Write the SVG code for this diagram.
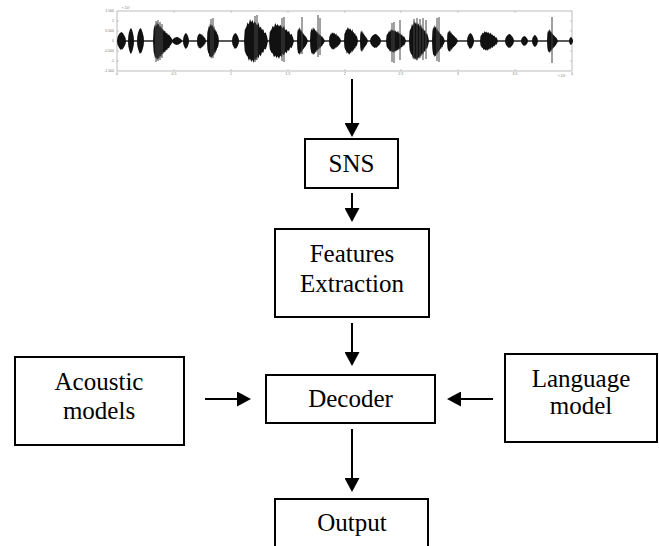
<svg xmlns="http://www.w3.org/2000/svg" xmlns:xlink="http://www.w3.org/1999/xlink" width="659" height="546" viewBox="0 0 659 546">
<style>
.box{fill:#fff;stroke:#000;stroke-width:2}
.lbl{font-family:'Liberation Serif','Times New Roman','DejaVu Serif',serif;font-size:25px;fill:#000;text-anchor:middle}
.conn{stroke:#000;stroke-width:2;fill:none;marker-end:url(#ah)}
.tick{font-family:'Liberation Sans',Arial,sans-serif;font-size:3.5px;fill:#777}
.wv{fill:#111}
.spk{stroke:#444;stroke-width:1;fill:none}
</style>
<defs>
<marker id="ah" markerUnits="userSpaceOnUse" markerWidth="14" markerHeight="15" refX="10" refY="7.5" orient="auto">
<path d="M0 0 L14 7.5 L0 15 Z" fill="#000"/>
</marker>
<path id="wA" d="M0 0 L0.3 -0.5 L1 -0.65 L1.5 -0.85 L2 -0.75 L2.5 -1 L3 -0.85 L3.5 -0.95 L4 -0.8 L4.5 -0.9 L5 -0.8 L5.5 -0.7 L6 -0.85 L6.5 -0.6 L7 -0.65 L7.5 -0.5 L8 -0.55 L8.5 -0.35 L9 -0.4 L9.6 -0.2 L10 0 L9.6 0.2 L9 0.4 L8.5 0.35 L8 0.55 L7.5 0.5 L7 0.7 L6.5 0.6 L6 0.8 L5.5 0.7 L5 0.9 L4.5 0.8 L4 1 L3.5 0.85 L3 0.95 L2.5 0.8 L2 0.9 L1.5 0.7 L1 0.65 L0.3 0.45 Z"/>
<path id="wB" d="M0 0 L0.3 -0.6 L1 -0.9 L1.5 -0.75 L2 -1 L2.5 -0.85 L3 -0.9 L3.5 -0.7 L4 -0.8 L4.5 -0.6 L5 -0.65 L5.5 -0.5 L6 -0.55 L6.5 -0.4 L7 -0.45 L7.5 -0.3 L8 -0.35 L8.5 -0.25 L9 -0.2 L10 0 L9 0.2 L8.5 0.25 L8 0.4 L7.5 0.35 L7 0.5 L6.5 0.45 L6 0.6 L5.5 0.55 L5 0.7 L4.5 0.65 L4 0.85 L3.5 0.75 L3 0.95 L2.5 0.9 L2 1 L1.5 0.85 L1 0.9 L0.3 0.55 Z"/>
<path id="wC" d="M0 0 L0.5 -0.4 L1 -0.5 L1.5 -0.65 L2 -0.7 L2.5 -0.8 L3 -0.85 L3.5 -0.9 L4 -0.95 L5 -1 L6 -0.92 L6.5 -0.88 L7 -0.8 L8 -0.65 L9 -0.45 L9.6 -0.3 L10 0 L9.6 0.3 L9 0.45 L8 0.65 L7 0.8 L6.5 0.85 L6 0.95 L5 0.92 L4 1 L3.5 0.9 L3 0.85 L2 0.7 L1 0.5 L0.5 0.4 Z"/>
</defs>
<rect width="659" height="546" fill="#fff"/>

<g id="waveform">
<rect x="117" y="11" width="455" height="60" fill="none" stroke="#aaa" stroke-width="0.8"/>
<g stroke="#aaa" stroke-width="0.6">
<path d="M117 21h2M117 31h2M117 51h2M117 61h2M572 21h-2M572 31h-2M572 51h-2M572 61h-2"/>
<path d="M174 71v-2M231 71v-2M288 71v-2M345 71v-2M401 71v-2M458 71v-2M515 71v-2M174 11v2M231 11v2M288 11v2M345 11v2M401 11v2M458 11v2M515 11v2"/>
</g>
<g class="tick" text-anchor="end">
<text x="114" y="12">1.500</text><text x="114" y="22">1</text><text x="114" y="32">0.500</text><text x="114" y="42">0</text><text x="114" y="52">-0.500</text><text x="114" y="62">-1</text><text x="114" y="72">-1.500</text>
</g>
<g class="tick" text-anchor="middle">
<text x="117" y="75">0</text><text x="174" y="75">0.5</text><text x="231" y="75">1</text><text x="288" y="75">1.5</text><text x="345" y="75">2</text><text x="401" y="75">2.5</text><text x="458" y="75">3</text><text x="515" y="75">3.5</text><text x="572" y="75">4</text>
<text x="126" y="9">× 10⁴</text><text x="562" y="77">× 10⁴</text>
</g>
<line x1="117" y1="41" x2="572" y2="41" stroke="#222" stroke-width="1.4"/>
<g class="wv">
<use xlink:href="#wC" transform="translate(117,41) scale(0.9,9)"/>
<use xlink:href="#wC" transform="translate(128,41) scale(0.6,13)"/>
<use xlink:href="#wC" transform="translate(137,41) scale(0.7,13)"/>
<use xlink:href="#wB" transform="translate(153,41) scale(2,19)"/>
<use xlink:href="#wC" transform="translate(172,41) scale(1,4)"/>
<use xlink:href="#wC" transform="translate(183,41) scale(0.6,8)"/>
<use xlink:href="#wA" transform="translate(197,41) scale(0.9,8)"/>
<use xlink:href="#wA" transform="translate(207,41) scale(1.2,18)"/>
<use xlink:href="#wC" transform="translate(232,41) scale(0.7,8)"/>
<use xlink:href="#wA" transform="translate(244,41) scale(2.4,22)"/>
<use xlink:href="#wA" transform="translate(269,41) scale(2.5,18)"/>
<use xlink:href="#wB" transform="translate(297,41) scale(1.1,14)"/>
<use xlink:href="#wB" transform="translate(310,41) scale(1.5,14)"/>
<use xlink:href="#wA" transform="translate(329,41) scale(1.2,9)"/>
<use xlink:href="#wA" transform="translate(344,41) scale(1.4,14)"/>
<use xlink:href="#wB" transform="translate(360,41) scale(0.8,11)"/>
<use xlink:href="#wC" transform="translate(370,41) scale(1.1,7)"/>
<use xlink:href="#wA" transform="translate(386,41) scale(2,12)"/>
<use xlink:href="#wA" transform="translate(409,41) scale(2,20)"/>
<use xlink:href="#wB" transform="translate(432,41) scale(1.3,16)"/>
<use xlink:href="#wB" transform="translate(447,41) scale(1.1,11)"/>
<use xlink:href="#wC" transform="translate(467,41) scale(0.7,8)"/>
<use xlink:href="#wA" transform="translate(480,41) scale(1.8,10)"/>
<use xlink:href="#wC" transform="translate(505,41) scale(0.9,7)"/>
<use xlink:href="#wC" transform="translate(521,41) scale(0.7,5)"/>
<use xlink:href="#wC" transform="translate(532,41) scale(0.6,6)"/>
<use xlink:href="#wB" transform="translate(547,41) scale(1.1,12)"/>
<use xlink:href="#wC" transform="translate(569,41) scale(0.4,4)"/>
</g>
<path class="spk" d="M156 21V62M158 20V61M160 22V60M162 24V58M211 19V57M213 18V58M255 16V62M257 15V60M282 18V61M284 17V62M302 17V54M318 15V57M320 18V55M392 23V62M394 22V63M400 20V60M414 19V59M417 18V60M420 19V58M423 18V60M426 20V59M437 18V61M439 17V62M552 17V63"/>
</g>

<g id="connectors">
<line class="conn" x1="352" y1="79" x2="352" y2="133"/>
<line class="conn" x1="352" y1="193" x2="352" y2="218"/>
<line class="conn" x1="352" y1="323" x2="352" y2="362"/>
<line class="conn" x1="205" y1="399" x2="247" y2="399"/>
<line class="conn" x1="493" y1="399" x2="451" y2="399"/>
<line class="conn" x1="352" y1="429" x2="352" y2="488"/>
</g>

<g font-family="Liberation Serif, Times New Roman, DejaVu Serif, serif">
<g id="sns">
<rect class="box" x="305" y="139" width="93" height="49"/>
<text class="lbl" x="351.5" y="172">SNS</text>
</g>
<g id="features">
<rect class="box" x="275" y="229" width="154" height="88"/>
<text class="lbl" x="352" y="262">Features</text>
<text class="lbl" x="352" y="292">Extraction</text>
</g>
<g id="acoustic">
<rect class="box" x="15" y="357" width="169" height="88"/>
<text class="lbl" x="99" y="390">Acoustic</text>
<text class="lbl" x="99" y="419">models</text>
</g>
<g id="decoder">
<rect class="box" x="266" y="375" width="169" height="48"/>
<text class="lbl" x="350.5" y="407">Decoder</text>
</g>
<g id="language">
<rect class="box" x="505" y="354" width="152" height="88"/>
<text class="lbl" x="581" y="387">Language</text>
<text class="lbl" x="581" y="414">model</text>
</g>
<g id="output">
<rect class="box" x="275" y="499" width="153" height="60"/>
<text class="lbl" x="352" y="531">Output</text>
</g>
</g>
</svg>
